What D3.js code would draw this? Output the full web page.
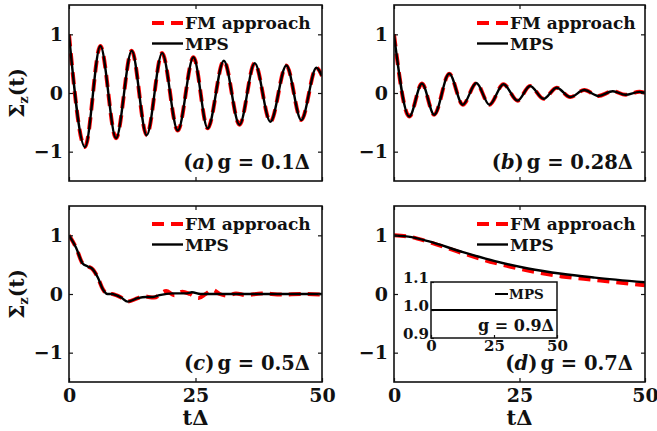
<!DOCTYPE html>
<html>
<head>
<meta charset="utf-8">
<style>
  body { margin: 0; background: #fff; }
</style>
</head>
<body>
<script src="https://d3js.org/d3.v7.min.js"></script>
<script>
// (a) g = 0.1 Delta : extrema of the oscillation
var tA   = [0, 3.16, 6.2, 9.3, 12.4, 15.35, 18.4, 21.5, 24.6, 27.4, 30.6, 33.7, 36.7, 39.8, 42.95, 45.9, 48.9, 50];
var mpsA = [1.0, -0.92, 0.80, -0.77, 0.72, -0.72, 0.68, -0.64, 0.61, -0.60, 0.55, -0.54, 0.51, -0.49, 0.47, -0.46, 0.43, 0.29];
var fmA  = [1.0, -0.92, 0.80, -0.77, 0.72, -0.72, 0.68, -0.64, 0.61, -0.60, 0.55, -0.54, 0.51, -0.49, 0.47, -0.46, 0.43, 0.29];

// (b) g = 0.28 Delta
var tB   = [0, 3.05, 5.57, 8.0, 11.0, 13.7, 16.4, 19.0, 21.8, 24.6, 27.1, 29.8, 32.4, 35.1, 37.9, 40.7, 43.6, 46.1, 48.9, 50];
var mpsB = [1.0, -0.40, 0.16, -0.37, 0.33, -0.20, 0.17, -0.20, 0.15, -0.13, 0.12, -0.10, 0.09, -0.07, 0.05, -0.05, 0.03, -0.03, 0.02, 0.005];
var fmB  = [1.0, -0.40, 0.16, -0.37, 0.33, -0.20, 0.17, -0.20, 0.15, -0.13, 0.12, -0.10, 0.09, -0.07, 0.05, -0.05, 0.03, -0.03, 0.02, 0.005];

// (c) g = 0.5 Delta
var tC   = [0, 1.4, 2.7, 3.7, 4.7, 5.7, 6.7, 7.6, 8.5, 9.3, 10.3, 11.6, 13.6, 15.2, 16.6, 17.9, 20.5, 23.1, 24.3, 26, 30, 35, 40, 45, 50];
var mpsC = [1.0, 0.79, 0.52, 0.47, 0.42, 0.28, 0.08, 0.0, 0.0, -0.02, -0.06, -0.13, -0.07, -0.05, -0.05, -0.02, 0.01, 0.01, 0.03, 0.0, 0.0, 0.0, 0.0, 0.0, 0.0];
var tCfm = [0, 1.4, 2.7, 3.7, 4.7, 5.7, 6.7, 7.6, 8.5, 9.3, 10.3, 11.6, 13.6, 14.6, 16.8, 19.2, 20.8, 22.4, 23.9, 25.6, 27.0, 28.4, 29.8, 31.3, 33.0, 35.0, 38, 42, 46, 50];
var fmC  = [1.0, 0.79, 0.52, 0.47, 0.42, 0.28, 0.08, 0.0, 0.0, -0.02, -0.06, -0.13, -0.07, -0.04, -0.06, 0.05, -0.02, 0.04, 0.0, -0.07, 0.0, 0.07, 0.0, -0.03, 0.01, -0.02, 0.01, -0.01, 0.0, -0.01];

// (d) g = 0.7 Delta
var tD   = [0, 3.5, 6.8, 13.5, 20.1, 26.7, 33.4, 40, 50];
var mpsD = [1.0, 0.97, 0.90, 0.72, 0.56, 0.435, 0.345, 0.28, 0.20];
var fmD  = [1.0, 0.97, 0.89, 0.70, 0.53, 0.40, 0.30, 0.24, 0.15];

// inset in (d): g = 0.9 Delta
var tIn   = [0, 50];
var mpsIn = [1.0, 1.0];

var xTicks = [0, 25, 50];
var yTicks = [-1, 0, 1];
var insetYTicks = [0.9, 1.0, 1.1];
var insetYLabels = ["0.9", "1.0", "1.1"];

var panelInfo = [
  { t: tA, mps: mpsA, tf: tA, fm: fmA, tag: "a", g: "0.1" },
  { t: tB, mps: mpsB, tf: tB, fm: fmB, tag: "b", g: "0.28" },
  { t: tC, mps: mpsC, tf: tCfm, fm: fmC, tag: "c", g: "0.5" },
  { t: tD, mps: mpsD, tf: tD, fm: fmD, tag: "d", g: "0.7" }
];

var W = 657, H = 431;
var FONT = "'DejaVu Serif', serif";
var INK = "#111";

var boxes = [
  { x0: 69, x1: 322, y0: 5, y1: 181, left: true, bottom: false },
  { x0: 394, x1: 645, y0: 5, y1: 181, left: false, bottom: false },
  { x0: 69, x1: 322, y0: 206, y1: 382, left: true, bottom: true },
  { x0: 394, x1: 645, y0: 206, y1: 382, left: false, bottom: true }
];

var svg = d3.select("body").append("svg")
  .attr("width", W)
  .attr("height", H)
  .style("font-family", FONT);

function styleAxis(sel, size) {
  sel.attr("font-family", FONT).attr("font-size", size).attr("font-weight", "bold");
  sel.select(".domain").remove();
  sel.selectAll(".tick line").attr("stroke", INK).attr("stroke-width", 1.2);
  sel.selectAll(".tick text").attr("fill", INK);
}

panelInfo.forEach(function(p, i) {
  var b = boxes[i];
  var x = d3.scaleLinear().domain([0, 50]).range([b.x0, b.x1]);
  var y = d3.scaleLinear().domain([-1.5, 1.5]).range([b.y1, b.y0]);
  var g = svg.append("g");

  g.append("clipPath").attr("id", "clip" + i)
    .append("rect")
    .attr("x", b.x0).attr("y", b.y0)
    .attr("width", b.x1 - b.x0).attr("height", b.y1 - b.y0);

  var line = d3.line()
    .x(function(d) { return x(d[0]); })
    .y(function(d) { return y(d[1]); })
    .curve(d3.curveMonotoneX);

  var plot = g.append("g").attr("clip-path", "url(#clip" + i + ")");
  plot.append("path")
    .datum(d3.zip(p.tf, p.fm))
    .attr("d", line)
    .attr("fill", "none")
    .attr("stroke", "#ff0000")
    .attr("stroke-width", 4)
    .attr("stroke-dasharray", "12,7");
  plot.append("path")
    .datum(d3.zip(p.t, p.mps))
    .attr("d", line)
    .attr("fill", "none")
    .attr("stroke", "#000")
    .attr("stroke-width", 2.4);

  // axes, ticks pointing inward on all four sides
  g.append("g").attr("transform", "translate(" + b.x0 + ",0)")
    .call(d3.axisLeft(y).tickValues(yTicks).tickSize(-4).tickPadding(6).tickFormat(d3.format("d")))
    .call(styleAxis, 19);
  g.append("g").attr("transform", "translate(" + b.x1 + ",0)")
    .call(d3.axisRight(y).tickValues(yTicks).tickSize(-4).tickFormat(""))
    .call(styleAxis, 19);
  g.append("g").attr("transform", "translate(0," + b.y0 + ")")
    .call(d3.axisTop(x).tickValues(xTicks).tickSize(-4).tickFormat(""))
    .call(styleAxis, 19);
  var xb = d3.axisBottom(x).tickValues(xTicks).tickSize(-4).tickPadding(6.5).tickFormat(d3.format("d"));
  if (!b.bottom) xb.tickFormat("");
  g.append("g").attr("transform", "translate(0," + b.y1 + ")")
    .call(xb)
    .call(styleAxis, 19);

  g.append("rect")
    .attr("x", b.x0).attr("y", b.y0)
    .attr("width", b.x1 - b.x0).attr("height", b.y1 - b.y0)
    .attr("fill", "none").attr("stroke", INK).attr("stroke-width", 1.6);

  // legend
  var lx = b.x0 + 83, ly = b.y0 + 18;
  g.append("line").attr("x1", lx).attr("x2", lx + 31).attr("y1", ly).attr("y2", ly)
    .attr("stroke", "#ff0000").attr("stroke-width", 4).attr("stroke-dasharray", "12,7");
  g.append("text").attr("x", lx + 33).attr("y", ly + 5.5)
    .attr("font-size", 17).attr("font-weight", "bold").attr("fill", INK)
    .text("FM approach");
  g.append("line").attr("x1", lx).attr("x2", lx + 31).attr("y1", ly + 20.5).attr("y2", ly + 20.5)
    .attr("stroke", "#000").attr("stroke-width", 2.4);
  g.append("text").attr("x", lx + 33).attr("y", ly + 26.5)
    .attr("font-size", 17).attr("font-weight", "bold").attr("fill", INK)
    .text("MPS");

  // panel annotation
  var ann = g.append("text")
    .attr("x", b.x1 - 12).attr("y", b.y1 - 12)
    .attr("text-anchor", "end")
    .attr("font-size", 19.5).attr("font-weight", "bold").attr("fill", INK);
  ann.append("tspan").text("(");
  ann.append("tspan").attr("font-style", "italic").text(p.tag);
  ann.append("tspan").text(")");
  ann.append("tspan").attr("dx", 3).text("g = " + p.g + "\u0394");

  if (b.left) {
    var cy = (b.y0 + b.y1) / 2;
    var yl = g.append("text")
      .attr("transform", "translate(24," + cy + ") rotate(-90)")
      .attr("text-anchor", "middle")
      .attr("font-size", 20).attr("font-weight", "bold").attr("fill", INK);
    yl.append("tspan").text("\u03a3");
    yl.append("tspan").attr("font-size", 13).attr("dy", 4).text("z");
    yl.append("tspan").attr("dy", -4).text("(t)");
  }
  if (b.bottom) {
    g.append("text")
      .attr("x", (b.x0 + b.x1) / 2).attr("y", 425)
      .attr("text-anchor", "middle")
      .attr("font-size", 21).attr("font-weight", "bold").attr("fill", INK)
      .text("t\u0394");
  }

  if (p.tag === "d") {
    var ix = d3.scaleLinear().domain([0, 50]).range([431, 557]);
    var iy = d3.scaleLinear().domain([0.9, 1.1]).range([338, 282]);
    var ig = g.append("g");
    ig.append("rect").attr("x", 431).attr("y", 282).attr("width", 126).attr("height", 56)
      .attr("fill", "#fff").attr("stroke", "none");
    ig.append("g").attr("transform", "translate(431,0)")
      .call(d3.axisLeft(iy).tickValues(insetYTicks).tickSize(-3).tickPadding(2)
        .tickFormat(function(d, k) { return insetYLabels[k]; }))
      .call(styleAxis, 15)
      .selectAll(".tick text").attr("dy", "0.05em");
    ig.append("g").attr("transform", "translate(0,338)")
      .call(d3.axisBottom(ix).tickValues(xTicks).tickSize(-3).tickPadding(2.5).tickFormat(d3.format("d")))
      .call(styleAxis, 15);
    ig.append("path")
      .datum(d3.zip(tIn, mpsIn))
      .attr("d", d3.line().x(function(d) { return ix(d[0]); }).y(function(d) { return iy(d[1]); }))
      .attr("fill", "none").attr("stroke", "#000").attr("stroke-width", 2);
    ig.append("rect").attr("x", 431).attr("y", 282).attr("width", 126).attr("height", 56)
      .attr("fill", "none").attr("stroke", INK).attr("stroke-width", 1.5);
    ig.append("line").attr("x1", 495).attr("x2", 508).attr("y1", 294).attr("y2", 294)
      .attr("stroke", "#000").attr("stroke-width", 2);
    ig.append("text").attr("x", 509).attr("y", 299)
      .attr("font-size", 13.5).attr("font-weight", "bold").attr("fill", INK).text("MPS");
    ig.append("text").attr("x", 554).attr("y", 331).attr("text-anchor", "end")
      .attr("font-size", 16).attr("font-weight", "bold").attr("fill", INK)
      .text("g = 0.9\u0394");
  }
});
</script>
</body>
</html>
